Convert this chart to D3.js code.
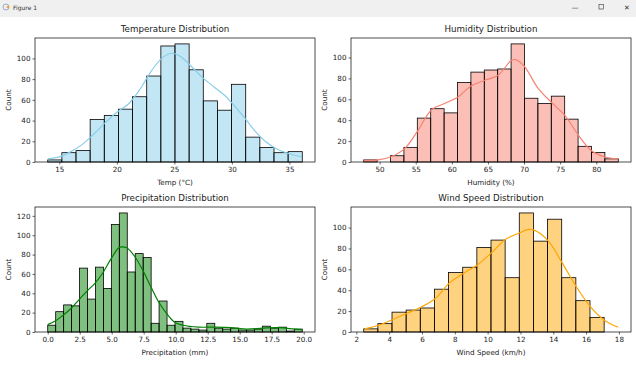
<!DOCTYPE html>
<html>
<head>
<meta charset="utf-8">
<script src="https://cdn.jsdelivr.net/npm/d3@7/dist/d3.min.js"></script>
<style>
  body { margin: 0; background: #fff; }
  svg { display: block; font-family: "DejaVu Sans", sans-serif; }
</style>
</head>
<body>
<svg width="636" height="365"></svg>
<script>
// ---- data ----
// histogram counts per bin, data range [min,max] split in equal bins
var tempCounts = [2, 9, 11, 41, 45, 51, 63, 83, 112, 114, 89, 59, 50, 75, 24, 14, 9, 10];
var tempRange = [13.99, 36.12];
var tempKdeX = [14.0, 15.0, 16.0, 17.0, 18.0, 19.0, 20.0, 21.0, 22.0, 23.0, 24.0, 24.8, 25.5, 26.5, 27.5, 28.5, 29.5, 30.0, 31.0, 32.0, 33.0, 34.0, 35.0, 36.1];
var tempKdeY = [3, 5, 10, 17, 27, 38, 48, 56, 70, 88, 101, 105, 102, 92, 81, 72, 63, 57, 44, 30, 19, 12, 8, 5];
var tempTicks = [15, 20, 25, 30, 35];

var humCounts = [2, 0, 6, 14, 42, 51, 47, 76, 86, 88, 89, 113, 61, 56, 63, 41, 15, 9, 3];
var humRange = [47.8, 83.05];
var humKdeX = [47.8, 49.8, 51.6, 53.5, 55.3, 57.2, 59.0, 60.8, 62.7, 64.5, 66.4, 68.2, 68.8, 70.0, 71.9, 73.8, 75.6, 77.5, 79.3, 81.1, 83.0];
var humKdeY = [1.5, 2, 5, 13, 30, 50, 56, 62, 73, 78, 83, 97, 98, 92, 71, 57, 45, 26, 11, 5, 3];
var humTicks = [50, 55, 60, 65, 70, 75, 80];

var precCounts = [7, 21, 28, 27, 66, 34, 67, 45, 111, 123, 62, 81, 77, 9, 32, 7, 11, 4, 3, 2, 9, 4, 3, 4, 2, 2, 3, 6, 4, 5, 1, 3];
var precRange = [0.0, 19.89];
var precKdeX = [0.0, 0.55, 1.17, 1.8, 2.42, 3.05, 3.67, 4.3, 4.92, 5.55, 5.8, 6.17, 6.8, 7.42, 8.05, 8.67, 9.3, 9.92, 10.55, 11.8, 13.05, 14.3, 15.55, 16.8, 18.05, 19.3, 19.89];
var precKdeY = [7.6, 11, 17, 24, 33, 42, 50, 61, 75, 87, 88, 87, 78, 64, 47, 31, 19, 10, 7, 5, 5, 4.5, 3, 4, 4.5, 3, 2.5];
var precTicks = [0, 2.5, 5, 7.5, 10, 12.5, 15, 17.5, 20];

var windCounts = [3, 8, 19, 21, 23, 41, 57, 62, 81, 88, 52, 114, 87, 108, 52, 30, 14, 0];
var windRange = [2.45, 17.96];
var windKdeX = [2.5, 3.36, 4.23, 5.09, 5.96, 6.81, 7.67, 8.52, 9.39, 10.24, 11.12, 11.97, 12.42, 12.84, 13.7, 14.55, 15.4, 16.27, 17.13, 17.96];
var windKdeY = [3, 6.5, 12, 18, 24, 32, 47, 56, 64.5, 76, 89, 95, 98, 97.5, 87, 66, 43.5, 24, 11, 4.5];
var windTicks = [2, 4, 6, 8, 10, 12, 14, 16, 18];

var panels = [
  {title: "Temperature Distribution", xlabel: "Temp (°C)", counts: tempCounts, range: tempRange,
   kx: tempKdeX, ky: tempKdeY, ticks: tempTicks, fmt: d3.format("d"), color: "skyblue", col: 0, row: 0},
  {title: "Humidity Distribution", xlabel: "Humidity (%)", counts: humCounts, range: humRange,
   kx: humKdeX, ky: humKdeY, ticks: humTicks, fmt: d3.format("d"), color: "salmon", col: 1, row: 0},
  {title: "Precipitation Distribution", xlabel: "Precipitation (mm)", counts: precCounts, range: precRange,
   kx: precKdeX, ky: precKdeY, ticks: precTicks, fmt: d3.format(".1f"), color: "green", col: 0, row: 1},
  {title: "Wind Speed Distribution", xlabel: "Wind Speed (km/h)", counts: windCounts, range: windRange,
   kx: windKdeX, ky: windKdeY, ticks: windTicks, fmt: d3.format("d"), color: "orange", col: 1, row: 1}
];

var svg = d3.select("svg");

// window title bar
var bar = svg.append("g");
bar.append("rect").attr("width", 636).attr("height", 17).attr("fill", "#f0f0f0");
bar.append("circle").attr("cx", 6).attr("cy", 7).attr("r", 3).attr("fill", "none").attr("stroke", "#7a9cc6").attr("stroke-width", 0.8);
bar.append("path").attr("d", "M6,7 L9,5 L9,9 Z").attr("fill", "#f29d38");
bar.append("text").attr("x", 13).attr("y", 9.5).attr("font-size", 6).attr("fill", "#333").text("Figure 1");
bar.append("text").attr("x", 575).attr("y", 9.5).attr("font-size", 7).attr("text-anchor", "middle").attr("fill", "#333").text("—");
bar.append("rect").attr("x", 599).attr("y", 4.5).attr("width", 4.5).attr("height", 4.5).attr("fill", "none").attr("stroke", "#333").attr("stroke-width", 0.6);
bar.append("text").attr("x", 627).attr("y", 9.5).attr("font-size", 7).attr("text-anchor", "middle").attr("fill", "#333").text("✕");

var colX = [35, 351], rowY = [38, 207], rowH = [124, 125], W = 280;

panels.forEach(function(p) {
  var x0 = colX[p.col], y0 = rowY[p.row], h = rowH[p.row];
  var span = p.range[1] - p.range[0];
  var x = d3.scaleLinear().domain([p.range[0] - 0.05 * span, p.range[1] + 0.05 * span]).range([0, W]);
  var y = d3.scaleLinear().domain([0, d3.max(p.counts) * 1.05]).range([h, 0]);
  var bw = span / p.counts.length;

  var g = svg.append("g").attr("transform", "translate(" + x0 + "," + y0 + ")");

  // bars
  g.selectAll("rect.bar").data(p.counts).enter().append("rect")
    .attr("class", "bar")
    .attr("x", function(d, i) { return x(p.range[0] + i * bw); })
    .attr("width", function(d, i) { return x(p.range[0] + (i + 1) * bw) - x(p.range[0] + i * bw); })
    .attr("y", function(d) { return y(d); })
    .attr("height", function(d) { return h - y(d); })
    .attr("fill", p.color).attr("fill-opacity", 0.5)
    .attr("stroke", "#000").attr("stroke-width", 0.8)
    .style("display", function(d) { return d > 0 ? null : "none"; });

  // kde line
  var line = d3.line()
    .x(function(d) { return x(d[0]); })
    .y(function(d) { return y(d[1]); })
    .curve(d3.curveCatmullRom.alpha(0.5));
  g.append("path").datum(d3.zip(p.kx, p.ky))
    .attr("d", line).attr("fill", "none").attr("stroke", p.color).attr("stroke-width", 1.2);

  // axes
  var xa = g.append("g").attr("transform", "translate(0," + h + ")")
    .call(d3.axisBottom(x).tickValues(p.ticks).tickFormat(p.fmt).tickSize(2.5).tickPadding(2));
  var ya = g.append("g")
    .call(d3.axisLeft(y).ticks(6).tickFormat(d3.format("d")).tickSize(2.5).tickPadding(2));
  [xa, ya].forEach(function(a) {
    a.select(".domain").remove();
    a.selectAll("line").attr("stroke", "#000").attr("stroke-width", 0.6);
    a.selectAll("text").attr("font-size", 7.2).attr("fill", "#222").attr("font-family", "DejaVu Sans");
  });

  // frame
  g.append("rect").attr("width", W).attr("height", h)
    .attr("fill", "none").attr("stroke", "#000").attr("stroke-width", 0.7);

  g.append("text").attr("x", W / 2).attr("y", -6).attr("text-anchor", "middle")
    .attr("font-size", 8.7).attr("fill", "#222").text(p.title);
  g.append("text").attr("x", W / 2).attr("y", h + 23).attr("text-anchor", "middle")
    .attr("font-size", 7.2).attr("fill", "#222").text(p.xlabel);
  g.append("text").attr("transform", "translate(-24," + (h / 2) + ") rotate(-90)")
    .attr("text-anchor", "middle").attr("font-size", 7.2).attr("fill", "#222").text("Count");
});
</script>
</body>
</html>
